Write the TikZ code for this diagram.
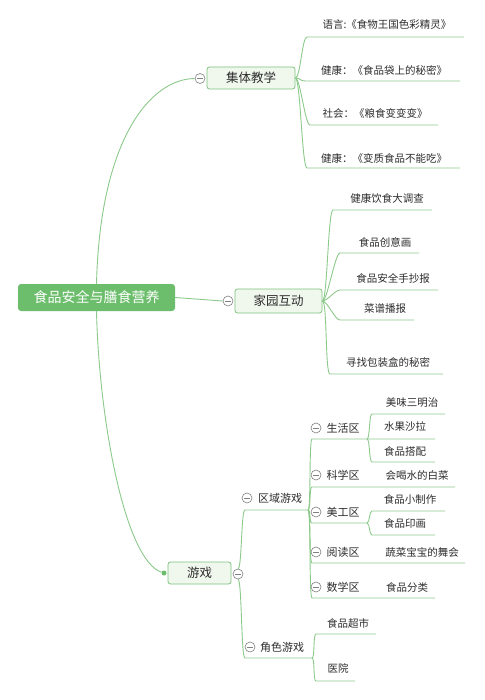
\documentclass[tikz,border=0pt]{standalone}
\usepackage{fontspec}
\setmainfont{Noto Sans CJK SC}
\usetikzlibrary{calc}
\definecolor{linegreen}{RGB}{140,202,140}
\definecolor{rootgreen}{RGB}{108,190,108}
\definecolor{boxfill}{RGB}{240,248,238}
\definecolor{boxdraw}{RGB}{125,195,125}
\definecolor{txt}{RGB}{45,45,45}

\begin{document}
\begin{tikzpicture}[x=1pt,y=-1pt,
        br/.style={draw=linegreen,line width=0.9pt},
        twig/.style={to path={.. controls ($(\tikztostart)+(#1,0)$) and ($(\tikztotarget)+(-#1,0)$) .. (\tikztotarget)}},
        twig/.default=5,
        rootbox/.style={rectangle,rounded corners=3pt,fill=rootgreen,text=white,font=\fontsize{14}{16}\selectfont,minimum width=157,minimum height=27},
        topic/.style={rectangle,rounded corners=2.5pt,draw=boxdraw,fill=boxfill,line width=0.8pt,text=txt,font=\fontsize{12.5}{14}\selectfont,minimum height=22},
        minus/.style={circle,draw=gray,fill=white,line width=0.6pt,minimum size=10pt,inner sep=0pt,
          path picture={\draw[gray,line width=0.6pt] ($(path picture bounding box.west)+(2pt,0)$) -- ($(path picture bounding box.east)+(-2pt,0)$);}},
        leaf/.style={text=txt,font=\fontsize{10.5}{12}\selectfont,inner sep=1pt},
        sub/.style={text=txt,font=\fontsize{11}{13}\selectfont,inner sep=1pt}]
  \useasboundingbox[fill=white] (0,0) rectangle (484,700);

  % main topics
  \node[rootbox] (root) at (96.5,297.5) {食品安全与膳食营养};
  \node[topic,minimum width=88] (jt) at (251,78) {集体教学};
  \node[topic,minimum width=87,minimum height=24] (jy) at (278.5,301) {家园互动};
  \node[topic,minimum width=63] (yx) at (199.5,573) {游戏};
  \node[minus] (c1) at (200,78.5) {};
  \node[minus] (c2) at (228,301) {};
  \node[minus] (c3) at (238,574) {};
  \node[circle,fill=rootgreen,inner sep=0pt,minimum size=5pt] (dot) at (164,573) {};

  \draw[br] (root.north) .. controls (100,140) and (150,79) .. (c1.west);
  \draw[br] (root.east) -- (c2.west);
  \draw[br] (root.south) .. controls (99,420) and (125,560) .. (dot);

  % 集体教学
  \foreach \n/\sx/\ex/\y in {1/307/464/37,2/305/460/81,3/310/438/125,4/307/460/168}{
    \coordinate (a\n s) at (\sx,\y);
    \coordinate (a\n e) at (\ex,\y);
    \draw[br] (jt.east) to[twig] (a\n s) -- (a\n e);
  }
  \node[leaf] (ta1) at (387,25) {语言:《食物王国色彩精灵》};
  \node[leaf] (ta2) at (384,70) {健康：《食品袋上的秘密》};
  \node[leaf] (ta3) at (375,113) {社会：《粮食变变变》};
  \node[leaf] (ta4) at (384,158) {健康：《变质食品不能吃》};

  % 家园互动
  \foreach \n/\sx/\ex/\y in {1/333/432/210,2/340/419/253,3/340/438/290,4/340/414/320,5/330/443/374}{
    \coordinate (b\n s) at (\sx,\y);
    \coordinate (b\n e) at (\ex,\y);
    \draw[br] (jy.east) to[twig] (b\n s) -- (b\n e);
  }
  \node[leaf] (tb1) at (387,198) {健康饮食大调查};
  \node[leaf] (tb2) at (385,242) {食品创意画};
  \node[leaf] (tb3) at (393,278) {食品安全手抄报};
  \node[leaf] (tb4) at (385,309) {菜谱播报};
  \node[leaf] (tb5) at (388,362) {寻找包装盒的秘密};

  % 游戏
  \coordinate (g1s) at (245,510); \coordinate (g1e) at (308,510);
  \coordinate (g2s) at (245,658); \coordinate (g2e) at (312,658);
  \draw[br] (c3.north) to[twig=4] (g1s) -- (g1e);
  \draw[br] (c3.south) to[twig=4] (g2s) -- (g2e);
  \node[minus] (cq) at (247,498) {};
  \node[sub] (qy) at (280,498) {区域游戏};
  \node[minus] (cj) at (250,647) {};
  \node[sub] (js) at (282,647) {角色游戏};

  % 区域游戏
  \foreach \n/\ex/\y in {1/435/439,2/455/487,3/367/523,4/465/563,5/435/598}{
    \coordinate (h\n s) at (312,\y);
    \coordinate (h\n e) at (\ex,\y);
    \draw[br] (g1e) to[twig=3] (h\n s) -- (h\n e);
  }
  \foreach \n/\y/\t in {1/428/生活区,2/475/科学区,3/512/美工区,4/552/阅读区,5/587/数学区}{
    \node[minus] (ch\n) at (316,\y) {};
    \node[sub] (th\n) at (343,\y) {\t};
  }
  \node[leaf] (tk2) at (417,475) {会喝水的白菜};
  \node[leaf] (tk4) at (422,552) {蔬菜宝宝的舞会};
  \node[leaf] (tk5) at (407,587) {食品分类};

  % 生活区
  \coordinate (h1m) at (367,439);
  \coordinate (k1s) at (372,414); \coordinate (k1e) at (445,414);
  \coordinate (k3s) at (372,462); \coordinate (k3e) at (435,462);
  \draw[br] (h1m) to[twig=3] (k1s) -- (k1e);
  \draw[br] (h1m) to[twig=3] (k3s) -- (k3e);
  \node[leaf] (tk11) at (412,403) {美味三明治};
  \node[leaf] (tk12) at (405,427) {水果沙拉};
  \node[leaf] (tk13) at (405,451) {食品搭配};

  % 美工区
  \coordinate (m1s) at (372,511); \coordinate (m1e) at (445,511);
  \coordinate (m2s) at (372,535); \coordinate (m2e) at (435,535);
  \draw[br] (h3e) to[twig=3] (m1s) -- (m1e);
  \draw[br] (h3e) to[twig=3] (m2s) -- (m2e);
  \node[leaf] (tm1) at (410,499) {食品小制作};
  \node[leaf] (tm2) at (405,523) {食品印画};

  % 角色游戏
  \coordinate (n1s) at (316,634); \coordinate (n1e) at (376,634);
  \coordinate (n2s) at (316,681); \coordinate (n2e) at (355,681);
  \draw[br] (g2e) to[twig=3] (n1s) -- (n1e);
  \draw[br] (g2e) to[twig=3] (n2s) -- (n2e);
  \node[leaf] (tn1) at (348,623) {食品超市};
  \node[leaf] (tn2) at (338,668) {医院};
\end{tikzpicture}
\end{document}
